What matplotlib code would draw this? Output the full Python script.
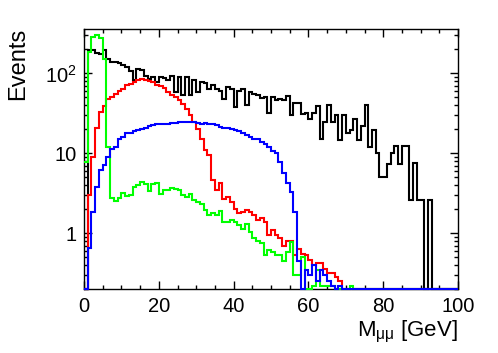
import numpy as np
import matplotlib
matplotlib.use('Agg')
import matplotlib.pyplot as plt
from matplotlib.ticker import MultipleLocator, LogLocator, NullFormatter, FixedLocator, FixedFormatter

plt.rcParams['font.family'] = ['Liberation Sans', 'DejaVu Sans']
plt.rcParams['mathtext.fontset'] = 'custom'
plt.rcParams['mathtext.rm'] = 'Liberation Sans'

# 100 bins of 1 GeV, 0..100
edges = np.arange(0, 101, 1)

black = [0, 194, 194, 180, 176, 194, 153, 139, 139, 136,
         126, 120, 108, 82, 114, 110, 94, 86, 90, 78,
         90, 88, 82, 94, 58, 90, 53, 90, 53, 82,
         58, 78, 75, 64, 72, 64, 61, 48, 68, 63,
         38, 61, 63, 40, 58, 55, 53, 49, 51, 32,
         51, 46, 48, 46, 52, 30, 43, 43, 31, 32,
         27, 32, 39, 15, 25, 40, 25, 30, 14.5, 30,
         17.7, 19.4, 27, 14.5, 22, 40, 12.1, 19.7, 10.1, 5.1,
         5.1, 7.3, 10.1, 12.3, 7.3, 12.4, 12.4, 2.6, 7.5, 2.6,
         2.6, 0, 2.6, 0, 0, 0, 0, 0, 0, 0]

red = [0, 3.0, 9, 21, 33, 39, 48, 51, 55, 61,
       64, 71, 74, 78, 82, 84, 82, 80, 78, 72,
       69, 66, 58, 53, 51, 46, 41, 36, 30, 25,
       20, 15, 11, 9.5, 4.6, 3.45, 4.2, 2.7, 2.8, 2.46,
       2.03, 1.8, 1.83, 1.93, 1.85, 1.68, 1.45, 1.53, 1.38, 0.94,
       1.1, 0.95, 0.86, 0.7, 0.8, 0.8, 0.54, 0.64, 0.55, 0.53,
       0.46, 0.4, 0.42, 0.42, 0.36, 0.32, 0.32, 0.28, 0.25, 0,
       0, 0, 0, 0, 0, 0, 0, 0, 0, 0,
       0, 0, 0, 0, 0, 0, 0, 0, 0, 0,
       0, 0, 0, 0, 0, 0, 0, 0, 0, 0]

green = [7.8, 184, 290, 300, 280, 150, 12, 2.72, 2.5, 2.72,
         3.2, 2.9, 3.0, 3.8, 4.0, 4.4, 4.1, 3.4, 4.1, 4.2,
         3.1, 3.45, 3.5, 3.7, 3.6, 3.45, 3.0, 2.85, 3.1, 2.6,
         2.45, 2.35, 1.94, 1.68, 1.8, 1.68, 1.9, 1.38, 1.38, 1.45,
         1.38, 1.28, 1.14, 1.32, 1.04, 0.86, 0.8, 0.75, 0.53, 0.62,
         0.58, 0.54, 0.53, 0.45, 0.58, 0.77, 0.3, 0.3, 0.5, 0,
         0, 0.22, 0.35, 0.22, 0.22, 0.22, 0.22, 0, 0, 0,
         0, 0.22, 0, 0, 0, 0, 0, 0, 0, 0,
         0, 0, 0, 0, 0, 0, 0, 0, 0, 0,
         0, 0, 0, 0, 0, 0, 0, 0, 0, 0]

blue = [0, 0.65, 1.85, 3.8, 6.1, 7.1, 8.9, 11.4, 12.1, 15.2,
        16, 17.7, 18.1, 18.8, 19.4, 20, 20.7, 22, 22.8, 23,
        23, 23.5, 23.5, 24, 24, 25, 24.5, 24.5, 24.5, 24.5,
        24, 23.5, 24, 23.5, 23.5, 22.8, 21.3, 20.7, 20.7, 20,
        19.4, 18.8, 18.1, 16.8, 16, 15.2, 15, 13.9, 12.9, 12.1,
        10.6, 10, 7.8, 5.6, 4.2, 3.3, 1.85, 0.45, 0, 0.35,
        0.3, 0.4, 0.25, 0.35, 0.3, 0.25, 0.22, 0, 0.22, 0,
        0, 0, 0, 0, 0, 0, 0, 0, 0, 0,
        0, 0, 0, 0, 0, 0, 0, 0, 0, 0,
        0, 0, 0, 0, 0, 0, 0, 0, 0, 0]

YMIN, YMAX = 0.2, 360

fig = plt.figure(figsize=(4.98, 3.53), dpi=100)
ax = fig.add_axes([84/498, 1-289/353, (458-84)/498, (289-29)/353])

for vals, col in [(black, 'black'), (red, '#ff0000'), (green, '#00ff00'), (blue, '#0000ff')]:
    v = np.clip(np.array(vals, dtype=float), YMIN, None)
    ax.stairs(v, edges, baseline=None, color=col, lw=1.5, zorder=3, clip_on=False)

ax.set_yscale('log')
ax.set_xlim(0, 100)
ax.set_ylim(YMIN, YMAX)

ax.xaxis.set_major_locator(MultipleLocator(20))
ax.xaxis.set_minor_locator(MultipleLocator(5))
ax.yaxis.set_major_locator(FixedLocator([1, 10, 100]))
ax.yaxis.set_major_formatter(FixedFormatter(['1', '10', r'$\mathregular{10^{2}}$']))
ax.yaxis.set_minor_locator(LogLocator(base=10, subs=np.arange(2, 10)))
ax.yaxis.set_minor_formatter(NullFormatter())

ax.tick_params(which='both', direction='in', top=True, right=True, width=1.0, labelsize=14.5)
ax.tick_params(axis='x', which='major', length=6, pad=6)
ax.tick_params(axis='x', which='minor', length=3)
ax.tick_params(axis='y', which='major', length=6, pad=5)
ax.tick_params(axis='y', which='minor', length=3)
for s in ax.spines.values():
    s.set_linewidth(1.0)

fig.text(458/498, 1-336.7/353, r'M$_{\mathregular{\mu\mu}}$ [GeV]', ha='right', va='baseline', fontsize=16)
fig.text(18.5/498, 1-28/353, 'Events', rotation=90, ha='center', va='top', fontsize=17)

fig.savefig('out.png', dpi=100)
